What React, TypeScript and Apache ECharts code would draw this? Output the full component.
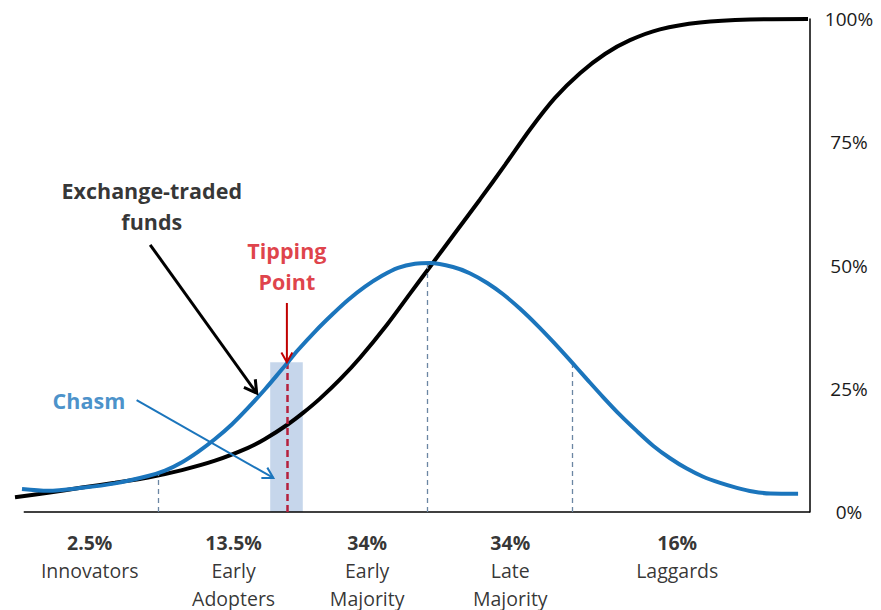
import React, { useEffect, useRef } from "react";
import * as echarts from "echarts";

const FONT = '"Open Sans", "Liberation Sans", sans-serif';
const BLUE = "#1b75bc";
const RED_TEXT = "#d7101a";
const RED_ARROW = "#c00000";
const RED_DASH = "#b5203c";
const DIVIDER = "#6b86a3";

// Cumulative adoption of exchange-traded funds (S-curve), % of market
const etfX = [0, 4.15, 8.43, 12.58, 16.73, 21.0, 25.16, 29.31, 31.45, 34.34, 36.23, 38.36, 40.88, 43.4, 46.79, 49.69, 51.95, 55.35, 58.49, 61.64, 64.78, 67.92, 71.07, 74.21, 77.36, 81.13, 86.16, 92.45, 99.75];
const etfY = [3.0, 3.9, 4.95, 5.95, 7.0, 8.5, 10.4, 13.0, 14.8, 17.8, 20.1, 23.0, 26.9, 31.3, 38.0, 44.3, 49.2, 56.6, 63.4, 70.4, 77.6, 84.0, 89.0, 92.9, 95.7, 97.9, 99.3, 99.9, 100];

// Adoption rate (bell curve)
const bellX = [0.88, 4.15, 8.43, 12.58, 16.73, 18.87, 21.01, 23.02, 25.16, 27.3, 29.31, 31.45, 33.58, 34.34, 35.6, 37.74, 39.87, 41.89, 44.03, 46.16, 48.18, 50.31, 52.2, 55.1, 57.2, 59.4, 61.4, 63.5, 65.7, 67.7, 69.8, 71.9, 74.0, 76.1, 78.2, 80.3, 82.4, 84.5, 86.5, 88.7, 90.8, 92.8, 95.0, 98.5];
const bellY = [4.67, 4.3, 4.9, 5.8, 7.3, 8.4, 10.1, 12.2, 14.8, 17.8, 21.1, 24.9, 28.95, 30.4, 32.85, 36.6, 40.0, 43.0, 45.7, 47.9, 49.5, 50.35, 50.5, 49.7, 48.44, 46.46, 44.16, 41.26, 37.85, 34.49, 30.79, 27.01, 23.27, 19.7, 16.45, 13.4, 10.9, 8.8, 7.2, 5.9, 4.9, 4.15, 3.75, 3.7];

// Adopter segments
const segmentShares = ["2.5%", "13.5%", "34%", "34%", "16%"];
const segmentNames = ["Innovators", "Early\nAdopters", "Early\nMajority", "Late\nMajority", "Laggards"];
const segmentCenters = [9.4, 27.5, 44.3, 62.3, 83.3];

// Segment boundaries drawn up to the bell curve
const dividerX = [18.0, 51.8, 70.1];
const dividerY = [7.9, 50.5, 30.3];

// Tipping point and the chasm band around it
const tippingX = 34.2;
const tippingY = 30.4;
const chasmBand = [32.1, 36.2];

// Axis ticks
const yMin = 0;
const yMax = 100;
const yStep = 25;

// Annotations: text positions and arrows [x1, y1, x2, y2]
const noteTexts = ["Exchange-traded\nfunds", "Tipping\nPoint", "Chasm"];
const noteX = [17.2, 34.2, 9.3];
const noteY = [62.0, 50.0, 22.7];
const noteColors = ["#000000", RED_TEXT, BLUE];

const arrowLines = [
  [17.0, 54.2, 30.4, 24.1],
  [34.2, 42.4, 34.2, 30.4],
  [15.3, 22.7, 32.5, 6.9],
];
const arrowColors = ["#000000", RED_ARROW, BLUE];
const arrowWidths = [3, 2, 2];
const arrowHeads = [14, 11, 12];

export default function App() {
  const ref = useRef<HTMLDivElement>(null);

  useEffect(() => {
    if (!ref.current) return;
    const chart = echarts.init(ref.current, undefined, { renderer: "svg" });

    const segmentLabels = segmentShares.map((s, i) => {
      const lines = segmentNames[i].split("\n").map((n) => `{n|${n}}`).join("\n");
      return { value: [segmentCenters[i], 0], label: `{p|${s}}\n${lines}` };
    });

    const option: echarts.EChartsOption = {
      animation: false,
      backgroundColor: "#ffffff",
      grid: { left: 15, right: 71, top: 19, bottom: 98 },
      xAxis: {
        type: "value",
        min: 0,
        max: 100,
        show: false,
        axisLine: { onZero: false },
      },
      yAxis: {
        type: "value",
        position: "right",
        min: yMin,
        max: yMax,
        interval: yStep,
        axisLine: { show: true, onZero: false, lineStyle: { color: "#000", width: 1.5 } },
        axisTick: { show: false },
        splitLine: { show: false },
        axisLabel: {
          formatter: "{value}%",
          color: "#1a1a1a",
          fontSize: 19,
          fontFamily: FONT,
          align: "center",
          margin: 39,
        },
      },
      series: [
        {
          type: "line",
          name: "Exchange-traded funds",
          data: etfX.map((x, i) => [x, etfY[i]]),
          smooth: 0.3,
          showSymbol: false,
          symbol: "none",
          lineStyle: { color: "#000", width: 4 },
          z: 4,
          clip: false,
          markArea: {
            silent: true,
            itemStyle: { color: "rgba(160,186,222,0.6)" },
            data: [[{ coord: [chasmBand[0], 0] }, { coord: [chasmBand[1], tippingY] }]],
          },
          markLine: {
            silent: true,
            symbol: "none",
            label: { show: false },
            lineStyle: { color: "#000", width: 1.5, type: "solid" },
            data: [[{ coord: [1.1, 0] }, { coord: [100, 0] }]],
          },
        },
        {
          type: "line",
          name: "Adoption rate",
          data: bellX.map((x, i) => [x, bellY[i]]),
          smooth: 0.3,
          showSymbol: false,
          symbol: "none",
          lineStyle: { color: BLUE, width: 4 },
          z: 5,
          clip: false,
          markLine: {
            silent: true,
            symbol: "none",
            label: { show: false },
            data: [
              ...dividerX.map((x, i) => [
                { coord: [x, 0], lineStyle: { color: DIVIDER, width: 1.3, type: [5, 4] } },
                { coord: [x, dividerY[i]] },
              ]),
              [
                { coord: [tippingX, 0], lineStyle: { color: RED_DASH, width: 2.5, type: [7, 4] } },
                { coord: [tippingX, tippingY] },
              ],
            ] as any,
          },
        },
        {
          type: "custom",
          name: "arrows",
          z: 6,
          clip: false,
          encode: { x: [0, 2], y: [1, 3] },
          data: arrowLines,
          renderItem: (params: any, api: any) => {
            const a = api.coord([api.value(0), api.value(1)]);
            const b = api.coord([api.value(2), api.value(3)]);
            const i = params.dataIndex;
            const L = arrowHeads[i];
            const ang = Math.atan2(b[1] - a[1], b[0] - a[0]);
            const spread = Math.PI / 6;
            const p1 = [b[0] - L * Math.cos(ang - spread), b[1] - L * Math.sin(ang - spread)];
            const p2 = [b[0] - L * Math.cos(ang + spread), b[1] - L * Math.sin(ang + spread)];
            const style = { stroke: arrowColors[i], lineWidth: arrowWidths[i], fill: "none" };
            return {
              type: "group",
              children: [
                { type: "line", shape: { x1: a[0], y1: a[1], x2: b[0], y2: b[1] }, style },
                { type: "polyline", shape: { points: [p1, b, p2] }, style },
              ],
            };
          },
        } as any,
        {
          type: "scatter",
          name: "notes",
          symbolSize: 0,
          z: 7,
          clip: false,
          silent: true,
          data: noteTexts.map((t, i) => ({
            value: [noteX[i], noteY[i]],
            label: { color: noteColors[i] },
          })),
          label: {
            show: true,
            position: "inside",
            fontFamily: FONT,
            fontWeight: "bold",
            fontSize: 21.5,
            lineHeight: 31,
            align: "center",
            formatter: (p: any) => noteTexts[p.dataIndex],
          },
        },
        {
          type: "scatter",
          name: "segments",
          symbolSize: 0,
          z: 7,
          clip: false,
          silent: true,
          data: segmentLabels.map((d) => ({ value: d.value })),
          label: {
            show: true,
            position: "bottom",
            distance: 16,
            align: "center",
            formatter: (p: any) => segmentLabels[p.dataIndex].label,
            rich: {
              p: { fontFamily: FONT, fontWeight: "bold", fontSize: 19.5, lineHeight: 28, color: "#000", align: "center" },
              n: { fontFamily: FONT, fontSize: 19.5, lineHeight: 28, color: "#000", align: "center" },
            },
          },
        },
      ],
    };

    chart.setOption(option);
    return () => chart.dispose();
  }, []);

  return <div ref={ref} style={{ width: 881, height: 610, position: "absolute", left: 0, top: 0 }} />;
}
